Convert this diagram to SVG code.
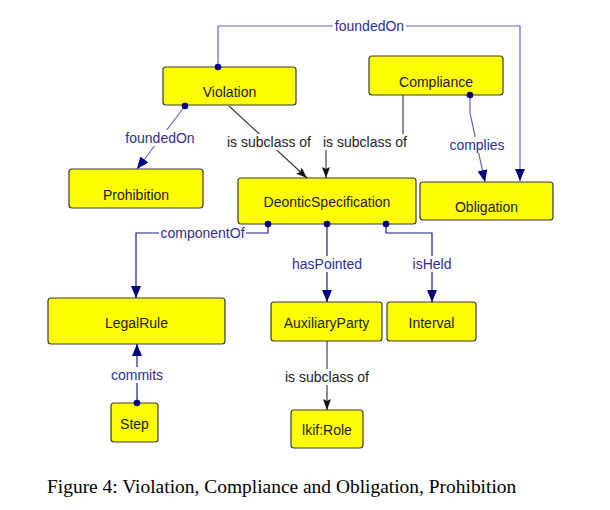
<svg xmlns="http://www.w3.org/2000/svg" width="610" height="510" viewBox="0 0 610 510">
<style>
.box{fill:#ffff00;stroke:#3a3a3a;stroke-width:1.2}
.nt{font-family:"Liberation Sans",Arial,sans-serif;font-size:14px;fill:#1a1a1a;text-anchor:middle}
.lt{font-family:"Liberation Sans",Arial,sans-serif;font-size:14px;fill:#2e2e96;text-anchor:middle}
.bt{font-family:"Liberation Sans",Arial,sans-serif;font-size:14px;fill:#222;text-anchor:middle}
.lb{fill:#ffffff}
.light{fill:none;stroke:#6464c0;stroke-width:1.2}
.dark{fill:none;stroke:#1c1c8c;stroke-width:1.2}
.blk{fill:none;stroke:#333;stroke-width:1.1}
.dot{fill:#000080}
.cap{font-family:"Liberation Serif","Times New Roman",serif;font-size:19.45px;fill:#000}
</style>
<defs>
<marker id="ab" markerUnits="userSpaceOnUse" markerWidth="12" markerHeight="10" refX="12" refY="5" orient="auto">
<path d="M0,0 L12,5 L0,10 z" fill="#000080"/>
</marker>
<marker id="ak" markerUnits="userSpaceOnUse" markerWidth="11" markerHeight="8" refX="11" refY="4" orient="auto">
<path d="M0,0 L11,4 L0,8 L2,4 z" fill="#111"/>
</marker>
</defs>
<rect width="610" height="510" fill="#ffffff"/>
<g id="Violation"><rect class="box" x="163" y="67" width="133" height="38" rx="3"/><text class="nt" x="229.5" y="97">Violation</text></g>
<g id="Compliance"><rect class="box" x="369" y="56" width="134" height="39" rx="3"/><text class="nt" x="436" y="86.7">Compliance</text></g>
<g id="Prohibition"><rect class="box" x="69" y="169" width="134" height="39" rx="3"/><text class="nt" x="136" y="200">Prohibition</text></g>
<g id="DeonticSpecification"><rect class="box" x="238" y="178" width="178" height="46" rx="3"/><text class="nt" x="327" y="206.7">DeonticSpecification</text></g>
<g id="Obligation"><rect class="box" x="420" y="182" width="133" height="38" rx="3"/><text class="nt" x="486.5" y="212.3">Obligation</text></g>
<g id="LegalRule"><rect class="box" x="48" y="298" width="177" height="46" rx="3"/><text class="nt" x="136.5" y="327.7">LegalRule</text></g>
<g id="AuxiliaryParty"><rect class="box" x="271" y="302" width="111" height="39" rx="3"/><text class="nt" x="326.5" y="328.3">AuxiliaryParty</text></g>
<g id="Interval"><rect class="box" x="387" y="302" width="89" height="39" rx="3"/><text class="nt" x="431.5" y="328.3">Interval</text></g>
<g id="Step"><rect class="box" x="111" y="403" width="47" height="39" rx="3"/><text class="nt" x="134.5" y="429">Step</text></g>
<g id="lkifRole"><rect class="box" x="291" y="410" width="72" height="38" rx="3"/><text class="nt" x="327" y="435">lkif:Role</text></g>
<g id="connectors">
<path class="light" d="M218,67 V26 H520 V181" marker-end="url(#ab)"/>
<path class="light" d="M185,106 L137,169" marker-end="url(#ab)"/>
<path class="blk" d="M229,106 L307,178" marker-end="url(#ak)"/>
<path class="blk" d="M403,95 V142 H326 V178" marker-end="url(#ak)"/>
<path class="light" d="M470,95 V113 L485,182" marker-end="url(#ab)"/>
<path class="dark" d="M268,224 V233 H136 V298" marker-end="url(#ab)"/>
<path class="dark" d="M327,224 V302" marker-end="url(#ab)"/>
<path class="dark" d="M386,224 V233 H432 V302" marker-end="url(#ab)"/>
<path class="dark" d="M137,403 V344" marker-end="url(#ab)"/>
<path class="blk" d="M327,341 V410" marker-end="url(#ak)"/>
<circle class="dot" cx="218" cy="67" r="3.3"/>
<circle class="dot" cx="185" cy="106" r="3.3"/>
<circle class="dot" cx="470" cy="95" r="3.3"/>
<circle class="dot" cx="268" cy="224" r="3.3"/>
<circle class="dot" cx="327" cy="224" r="3.3"/>
<circle class="dot" cx="386" cy="224" r="3.3"/>
<circle class="dot" cx="137" cy="403" r="3.3"/>
<rect class="lb" x="333" y="18" width="73" height="16"/>
<text class="lt" x="369.5" y="31">foundedOn</text>
<rect class="lb" x="124" y="130" width="72" height="16"/>
<text class="lt" x="160" y="143">foundedOn</text>
<rect class="lb" x="226" y="134" width="87" height="16"/>
<text class="bt" x="269" y="147">is subclass of</text>
<rect class="lb" x="322" y="134" width="87" height="16"/>
<text class="bt" x="365" y="147">is subclass of</text>
<rect class="lb" x="448" y="137" width="58" height="16"/>
<text class="lt" x="477" y="150">complies</text>
<rect class="lb" x="159" y="225" width="87" height="16"/>
<text class="lt" x="202.5" y="238">componentOf</text>
<rect class="lb" x="290" y="256" width="74" height="16"/>
<text class="lt" x="327" y="269">hasPointed</text>
<rect class="lb" x="411" y="256" width="42" height="16"/>
<text class="lt" x="432" y="269">isHeld</text>
<rect class="lb" x="110" y="367" width="55" height="16"/>
<text class="lt" x="137" y="380">commits</text>
<rect class="lb" x="283" y="369" width="88" height="16"/>
<text class="bt" x="327" y="382">is subclass of</text>
</g>
<text class="cap" x="47" y="492.5">Figure 4: Violation, Compliance and Obligation, Prohibition</text>
</svg>
